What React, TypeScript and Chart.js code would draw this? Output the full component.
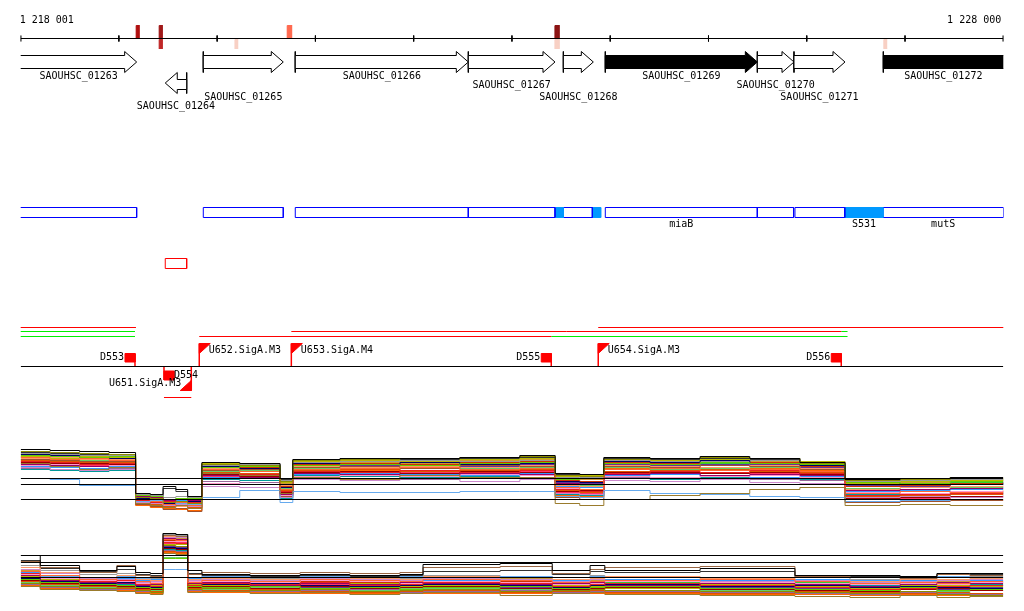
import React, { useEffect, useRef } from 'react';
import { Chart, registerables } from 'chart.js';

Chart.register(...registerables);

// ---------------- data ----------------
const VIEW_START = 1218001;
const VIEW_END = 1228000;
const rulerTicks = [1218001, 1219000, 1220000, 1221000, 1222000, 1223000, 1224000, 1225000, 1226000, 1227000, 1228000];
const rulerLabels = ['1 218 001', '1 228 000'];

const geneNames = ['SAOUHSC_01263', 'SAOUHSC_01264', 'SAOUHSC_01265', 'SAOUHSC_01266', 'SAOUHSC_01267', 'SAOUHSC_01268', 'SAOUHSC_01269', 'SAOUHSC_01270', 'SAOUHSC_01271', 'SAOUHSC_01272'];
const geneStart = [1217800, 1219472, 1219859, 1220795, 1222556, 1223523, 1223950, 1225497, 1225870, 1226779];
const geneEnd = [1219181, 1219690, 1220673, 1222556, 1223438, 1223828, 1225497, 1225870, 1226389, 1228600];
const geneStrand = [1, -1, 1, 1, 1, 1, 1, 1, 1, 1];
const geneFilled = [false, false, false, false, false, false, true, false, false, true];
const geneLabelTier = [0, 3, 2, 0, 1, 2, 0, 1, 2, 0];

const markStart = [1219177, 1219411, 1219411, 1220182, 1220714, 1223438, 1223438, 1226785];
const markEnd = [1219207, 1219442, 1219442, 1220209, 1220758, 1223481, 1223481, 1226813];
const markSide = ['up', 'up', 'down', 'down', 'up', 'up', 'down', 'down'];
const markColor = ['#b01010', '#a01818', '#c02828', '#f8d0c4', '#ff6a50', '#8c1414', '#f8d0c4', '#f8d0c4'];

const boxStart = [1217800, 1219859, 1220795, 1222556, 1223444, 1223523, 1223818, 1223950, 1225497, 1225880, 1226389, 1226776];
const boxEnd = [1219181, 1220673, 1222556, 1223438, 1223523, 1223818, 1223903, 1225497, 1225866, 1226387, 1226776, 1228004];
const boxFilled = [false, false, false, false, true, false, true, false, false, false, true, false];
const boxLabel = ['', '', '', '', '', '', '', 'miaB', '', '', 'S531', 'mutS'];

const redBoxStart = [1219472];
const redBoxEnd = [1219690];

const flagNames = ['D553', 'D554', 'U651.SigA.M3', 'U652.SigA.M3', 'U653.SigA.M4', 'D555', 'U654.SigA.M3', 'D556'];
const flagPos = [1219164, 1219459, 1219737, 1219818, 1220755, 1223400, 1223878, 1226351];
const flagKind = ['D', 'D', 'U', 'U', 'U', 'D', 'U', 'D'];
const flagSide = ['up', 'down', 'down', 'up', 'up', 'up', 'up', 'up'];

const tuStart = [1217800, 1217800, 1217800, 1219818, 1223400, 1220755, 1226351, 1223878, 1219459];
const tuEnd = [1219174, 1219164, 1219164, 1223400, 1226415, 1226351, 1226415, 1228100, 1219737];
const tuLevel = [0, 1, 2, 2, 2, 1, 1, 0, 3];
const tuColor = ['#ff0000', '#00ee00', '#00ee00', '#ff0000', '#00ee00', '#ff0000', '#00ee00', '#ff0000', '#ff0000'];

// expression track 1
const t1X = [1218001, 1218300, 1218600, 1218900, 1219170, 1219320, 1219450, 1219580, 1219700, 1219845, 1220230, 1220640, 1220770, 1221250, 1221860, 1222470, 1223080, 1223440, 1223690, 1223935, 1224405, 1224915, 1225420, 1225930, 1226390, 1226950, 1227460, 1228000];
const t1Refs = [2.1, 1.5, 0];
const t1Series = [
  [5.0, 4.9, 4.8, 4.7, 0.6, 0.5, 1.3, 1.0, 0.3, 3.7, 3.6, 2.1, 4.0, 4.1, 4.1, 4.2, 4.4, 2.6, 2.5, 4.2, 4.1, 4.3, 4.1, 3.7, 2.0, 2.1, 2.2, 2.2],
  [4.8, 4.7, 4.6, 4.5, 0.2, 0.1, -0.3, -0.2, -0.4, 3.5, 3.4, 1.8, 3.9, 4.0, 4.1, 4.2, 4.3, 2.4, 2.3, 4.0, 4.1, 4.2, 4.1, 3.6, 1.9, 2.0, 2.2, 2.2],
  [3.6, 3.3, 3.0, 3.2, -0.4, -0.6, -0.8, -0.6, -0.9, 2.6, 2.4, 0.6, 2.2, 2.0, 2.4, 2.2, 2.2, -0.4, -0.6, 0.0, 0.4, 0.6, 1.0, 1.2, -0.6, -0.5, -0.6, -0.6],
  [2.1, 2.0, 1.4, 1.4, -0.2, -0.1, -0.3, -0.4, -0.5, 0.2, 0.9, -0.3, 0.8, 0.7, 0.7, 0.8, 0.8, 0.3, 0.2, 0.9, 0.6, 0.5, 0.3, 0.2, -0.2, -0.1, 0.0, 0.0],
  [4.2, 4.0, 4.1, 3.9, 0.0, -0.2, -0.5, -0.3, -0.6, 3.0, 2.8, 1.0, 3.0, 3.1, 3.2, 3.0, 3.1, 1.2, 1.0, 3.0, 3.1, 2.9, 3.0, 2.8, 0.6, 0.8, 0.7, 0.9],
  [3.8, 3.7, 3.5, 3.6, -0.1, -0.3, -0.2, -0.4, -0.3, 2.6, 2.5, 0.8, 2.8, 2.7, 2.9, 2.7, 2.9, 1.0, 0.8, 2.6, 2.8, 2.7, 2.9, 2.6, 0.4, 0.5, 0.6, 0.5],
  [3.5, 3.4, 3.3, 3.2, 0.3, 0.2, -0.1, 0.0, -0.1, 2.4, 2.2, 0.5, 2.6, 2.5, 2.4, 2.6, 2.5, 1.6, 1.5, 2.5, 2.6, 2.4, 2.5, 2.4, 0.9, 1.0, 1.1, 1.2],
  [4.4, 4.3, 4.2, 4.3, 0.4, 0.3, 0.0, 0.1, 0.1, 3.2, 3.3, 1.5, 3.4, 3.5, 3.4, 3.6, 3.7, 2.0, 2.1, 3.6, 3.5, 3.7, 3.6, 3.5, 1.7, 1.6, 1.8, 1.9],
  [3.2, 3.0, 2.9, 3.0, -0.3, -0.4, -0.6, -0.5, -0.7, 1.3, 1.2, 0.2, 2.0, 1.9, 2.1, 1.8, 2.0, 0.6, 0.5, 1.9, 1.8, 2.0, 1.7, 1.6, 0.2, 0.3, 0.2, 0.4],
  [4.0, 3.9, 3.8, 3.8, -0.5, -0.7, -1.0, -0.9, -1.2, 2.9, 3.0, 0.3, 3.2, 3.3, 3.1, 3.4, 3.3, 0.2, 0.0, 3.3, 3.2, 3.4, 3.3, 3.0, -0.3, -0.2, -0.1, 0.0],
  [4.5, 4.4, 4.2, 4.1, 0.1, 0.0, -0.4, -0.2, -0.2, 3.3, 3.1, 1.2, 3.6, 3.5, 3.7, 3.5, 3.6, 1.8, 1.7, 3.8, 3.7, 3.9, 3.6, 3.4, 1.5, 1.6, 1.5, 1.7],
  [4.6, 4.5, 4.4, 4.4, 0.5, 0.4, 0.2, 0.3, 0.2, 3.4, 3.5, 1.9, 3.7, 3.8, 3.9, 3.8, 3.9, 2.2, 2.2, 3.9, 3.8, 3.8, 3.9, 3.7, 1.8, 1.9, 2.0, 2.0],
  [4.1, 4.2, 4.0, 4.0, 0.2, 0.0, -0.6, -0.7, -0.5, 3.1, 3.0, 1.4, 3.3, 3.2, 3.3, 3.2, 3.4, 1.4, 1.3, 3.4, 3.3, 3.2, 3.4, 3.1, 1.0, 1.2, 1.3, 1.4],
  [3.9, 3.8, 3.7, 3.7, -0.2, -0.5, -0.7, -0.6, -0.8, 2.7, 2.6, 0.9, 2.9, 3.0, 2.8, 2.9, 3.0, 0.9, 0.7, 2.8, 2.9, 3.0, 2.8, 2.7, 0.3, 0.4, 0.5, 0.6],
  [3.4, 3.5, 3.3, 3.4, 0.0, -0.1, -0.3, -0.2, -0.4, 1.6, 1.5, 0.4, 2.3, 2.4, 2.3, 2.5, 2.4, 1.1, 1.0, 2.3, 2.2, 2.3, 2.4, 2.2, 0.7, 0.6, 0.8, 0.9],
  [3.7, 3.6, 3.6, 3.5, -0.4, -0.3, -0.5, -0.4, -0.6, 2.5, 2.3, 0.7, 2.7, 2.8, 2.6, 2.8, 2.7, 0.8, 0.9, 2.7, 2.7, 2.6, 2.7, 2.5, 0.1, 0.2, 0.3, 0.3],
  [4.3, 4.1, 4.3, 4.2, 0.3, 0.1, -0.2, 0.0, -0.1, 3.6, 3.4, 1.7, 3.8, 3.9, 3.8, 4.0, 4.1, 2.3, 2.4, 4.0, 3.9, 4.0, 3.9, 3.8, 1.6, 1.8, 1.9, 2.1],
  [3.3, 3.2, 3.1, 3.3, 0.1, 0.2, -0.2, -0.1, 0.0, 2.2, 2.1, 0.6, 2.5, 2.6, 2.5, 2.4, 2.6, 1.3, 1.2, 2.4, 2.5, 2.3, 2.2, 2.3, 0.8, 0.9, 1.0, 1.1],
  [3.0, 2.9, 2.8, 2.9, -0.1, 0.0, -0.4, -0.3, -0.3, 2.0, 1.9, 0.1, 2.4, 2.3, 2.2, 2.3, 2.2, 0.5, 0.4, 2.1, 2.0, 2.2, 2.1, 2.0, 0.5, 0.4, 0.6, 0.7],
  [4.7, 4.6, 4.5, 4.5, 0.4, 0.3, 1.1, 0.8, 0.0, 3.6, 3.5, 2.0, 3.9, 4.0, 4.0, 4.1, 4.2, 2.5, 2.4, 4.1, 4.0, 4.1, 4.0, 3.6, 1.9, 2.0, 2.1, 2.1],
  [4.3, 4.2, 4.0, 4.1, 0.2, 0.0, -0.4, -0.5, -0.7, 3.4, 3.2, 1.3, 3.5, 3.6, 3.5, 3.7, 3.8, 1.9, 1.8, 3.7, 3.6, 3.8, 3.7, 3.3, 1.3, 1.4, 1.6, 1.7],
  [3.9, 4.0, 3.9, 3.9, -0.1, -0.2, -0.5, -0.4, -0.5, 2.8, 2.9, 1.1, 3.1, 3.0, 3.2, 3.1, 3.2, 1.5, 1.4, 3.2, 3.0, 3.1, 3.2, 3.0, 1.1, 1.0, 1.2, 1.3],
  [3.6, 3.5, 3.4, 3.5, -0.3, -0.2, -0.4, -0.6, -0.4, 2.3, 2.4, 0.6, 2.7, 2.6, 2.7, 2.6, 2.8, 0.7, 0.6, 2.6, 2.5, 2.6, 2.6, 2.4, 0.2, 0.1, 0.3, 0.4],
  [4.0, 4.1, 4.0, 3.9, 0.1, -0.1, -0.2, -0.3, -0.2, 3.0, 3.1, 1.2, 3.3, 3.4, 3.3, 3.3, 3.5, 1.7, 1.6, 3.5, 3.4, 3.5, 3.5, 3.2, 1.4, 1.3, 1.5, 1.6],
  [4.5, 4.3, 4.4, 4.3, 0.3, 0.2, 0.0, -0.1, 0.0, 3.5, 3.3, 1.6, 3.7, 3.7, 3.6, 3.9, 4.0, 2.1, 2.0, 3.8, 3.8, 3.9, 3.8, 3.6, 1.7, 1.7, 1.9, 2.0],
  [3.1, 3.2, 3.1, 3.1, -0.2, -0.3, -0.7, -0.6, -0.6, 1.8, 1.7, 0.3, 2.2, 2.1, 2.0, 2.2, 2.1, 0.9, 0.8, 2.2, 2.1, 2.1, 2.0, 1.9, 0.6, 0.5, 0.7, 0.8],
  [4.2, 4.3, 4.1, 4.2, 0.4, 0.2, -0.1, 0.1, -0.2, 3.3, 3.4, 1.4, 3.6, 3.5, 3.6, 3.5, 3.6, 2.1, 2.0, 3.6, 3.7, 3.6, 3.7, 3.4, 1.6, 1.5, 1.7, 1.8],
  [3.8, 3.9, 3.8, 3.7, -0.6, -0.8, -0.9, -1.0, -1.1, 2.7, 2.8, 0.4, 3.0, 2.9, 3.1, 3.0, 2.9, 0.4, 0.3, 3.1, 3.0, 2.9, 3.1, 2.9, 0.0, 0.1, 0.2, 0.2],
];
const t1Colors = ['#000000', '#8c8c00', '#9a7b2c', '#66aaee', '#ff6633', '#e82020', '#990066', '#66cc00', '#cc88cc', '#a0522d', '#000066', '#999999', '#ff9966', '#dd5500', '#ff99cc', '#990000', '#b8b800', '#3399ff', '#009999', '#333333', '#cc3300', '#66cc66', '#ff3366', '#663399', '#cc9933', '#996699', '#33cc33', '#ff6600'];

// expression track 2
const t2X = [1218001, 1218200, 1218600, 1218980, 1219170, 1219320, 1219450, 1219580, 1219700, 1219845, 1220335, 1220845, 1221350, 1221860, 1222095, 1222880, 1223410, 1223795, 1223945, 1224915, 1225880, 1226440, 1226950, 1227325, 1227660, 1228000];
const t2Refs = [2.2, 1.5, 0];
const t2Series = [
  [2.2, 1.2, 0.7, 1.1, 0.5, 0.4, 4.4, 4.3, 0.7, 0.3, 0.2, 0.3, 0.2, 0.3, 1.3, 1.4, 0.7, 1.2, 0.7, 0.9, 0.2, 0.2, 0.1, 0.4, 0.4, 0.4],
  [1.6, 1.0, 0.5, 1.2, 0.2, 0.1, 4.2, 4.1, 0.3, 0.5, 0.4, 0.5, 0.4, 0.5, 1.0, 1.1, 0.4, 0.8, 1.0, 1.1, 0.1, 0.0, -0.1, 0.3, 0.2, 0.2],
  [0.6, 0.2, -0.2, 0.0, -0.4, -0.6, 3.8, 3.7, -0.5, -0.3, -0.4, -0.2, -0.3, -0.4, -0.2, -0.3, -0.5, -0.4, -0.3, -0.2, -0.4, -0.6, -0.5, -0.6, -0.4, -0.4],
  [0.4, 0.0, -0.4, -0.3, -0.7, -0.9, 3.5, 3.4, -0.8, -0.6, -0.7, -0.5, -0.8, -0.7, -0.5, -0.6, -0.9, -0.7, -0.6, -0.8, -1.0, -1.2, -1.1, -0.9, -0.8, -0.8],
  [0.0, 0.1, 0.0, 0.1, -0.1, 0.0, 0.8, 0.8, 0.0, 0.1, 0.0, 0.1, 0.0, 0.1, 0.0, 0.1, 0.0, 0.1, 0.0, 0.0, 0.1, 0.0, 0.0, 0.1, 0.0, 0.0],
  [-0.6, -0.9, -1.1, -1.0, -1.3, -1.5, 3.2, 3.1, -1.2, -1.1, -1.3, -1.2, -1.4, -1.3, -1.2, -1.4, -1.3, -1.2, -1.3, -1.4, -1.5, -1.6, -1.4, -1.7, -1.8, -1.8],
  [0.2, -0.3, -0.5, -0.6, -0.8, -0.7, 3.9, 3.8, -0.6, -0.5, -0.8, -0.6, -0.7, -0.5, -0.6, -0.7, -0.6, -0.5, -0.8, -0.6, -0.7, -0.9, -0.7, -0.5, -0.6, -0.6],
  [-0.2, -0.5, -0.7, -0.8, -1.0, -1.1, 1.9, 1.9, -0.9, -1.0, -0.9, -1.1, -1.0, -1.2, -1.0, -0.9, -1.1, -1.0, -0.9, -1.1, -1.2, -1.3, -1.0, -1.3, -1.2, -1.2],
  [0.8, 0.4, -0.1, -0.2, -0.5, -0.4, 4.0, 4.0, -0.3, -0.2, -0.3, -0.1, -0.2, -0.3, -0.1, -0.2, -0.4, -0.2, -0.3, -0.4, -0.3, -0.5, -0.4, -0.3, -0.2, -0.2],
  [-0.1, -0.4, -0.6, -0.5, -0.9, -1.0, 3.0, 2.9, -0.8, -0.7, -0.6, -0.8, -0.9, -0.8, -0.7, -0.8, -1.0, -0.8, -0.7, -0.9, -0.8, -1.0, -0.9, -1.0, -1.1, -1.1],
  [1.0, 0.5, 0.0, 0.2, -0.2, -0.3, 4.1, 4.0, -0.2, -0.1, -0.2, 0.0, -0.1, -0.2, 0.1, 0.0, -0.2, -0.1, 0.1, -0.1, -0.3, -0.4, -0.2, -0.2, -0.1, -0.1],
  [-0.4, -0.7, -0.9, -1.1, -1.2, -1.4, 2.6, 2.5, -1.1, -1.3, -1.2, -1.4, -1.5, -1.4, -1.3, -1.5, -1.4, -1.3, -1.5, -1.6, -1.4, -1.5, -1.6, -1.5, -1.6, -1.6],
  [1.2, 0.7, 0.3, 0.4, 0.0, -0.1, 4.3, 4.2, 0.0, 0.1, -0.1, 0.1, 0.0, -0.1, 0.2, 0.1, 0.0, 0.2, 0.0, -0.1, 0.0, -0.2, -0.1, 0.0, 0.1, 0.1],
  [0.3, -0.1, -0.3, -0.4, -0.6, -0.5, 3.6, 3.6, -0.4, -0.4, -0.5, -0.3, -0.4, -0.6, -0.4, -0.5, -0.7, -0.6, -0.4, -0.5, -0.6, -0.7, -0.6, -0.7, -0.5, -0.5],
  [-0.3, -0.6, -0.8, -0.9, -1.1, -1.2, 2.9, 2.8, -1.0, -0.9, -1.1, -0.9, -1.1, -1.0, -0.9, -1.1, -1.2, -1.1, -1.0, -1.2, -1.3, -1.4, -1.2, -1.1, -1.3, -1.3],
  [0.1, -0.2, -0.4, -0.3, -0.7, -0.8, 3.3, 3.3, -0.7, -0.8, -0.7, -0.9, -0.6, -0.9, -0.8, -0.7, -0.8, -0.9, -1.1, -0.7, -0.9, -1.1, -0.8, -0.8, -0.9, -0.9],
  [0.5, 0.1, -0.2, -0.1, -0.3, -0.2, 2.2, 2.2, -0.1, -0.2, -0.1, -0.3, -0.2, -0.1, -0.3, -0.2, -0.3, -0.2, -0.2, -0.3, -0.2, -0.3, -0.3, -0.2, -0.3, -0.3],
  [-0.9, -1.2, -1.3, -1.4, -1.6, -1.7, 2.4, 2.3, -1.5, -1.4, -1.6, -1.5, -1.7, -1.6, -1.5, -1.8, -1.6, -1.5, -1.7, -1.8, -1.9, -2.0, -1.8, -2.0, -1.9, -1.9],
  [1.7, 0.9, 0.6, 0.8, 0.3, 0.2, 4.4, 4.3, 0.4, 0.2, 0.1, 0.2, 0.1, 0.2, 0.6, 0.7, 0.3, 0.6, 0.5, 0.6, 0.1, 0.1, 0.0, 0.3, 0.3, 0.3],
  [0.0, -0.3, -0.5, -0.7, -0.8, -0.9, 2.8, 2.7, -0.6, -0.5, -0.7, -0.6, -0.7, -0.6, -0.6, -0.7, -0.8, -0.7, -0.6, -0.7, -0.8, -0.8, -0.7, -0.8, -0.7, -0.7],
  [0.5, 0.0, -0.3, -0.2, -0.5, -0.6, 3.7, 3.6, -0.5, -0.4, -0.6, -0.4, -0.5, -0.6, -0.3, -0.4, -0.6, -0.5, -0.4, -0.5, -0.7, -0.8, -0.6, -0.6, -0.5, -0.5],
  [-0.5, -0.8, -1.0, -0.9, -1.1, -1.3, 2.0, 2.0, -1.0, -1.2, -1.0, -1.2, -1.3, -1.1, -1.1, -1.2, -1.3, -1.2, -1.1, -1.3, -1.4, -1.3, -1.2, -1.4, -1.3, -1.3],
  [0.1, -0.4, -0.6, -0.5, -0.9, -0.8, 3.4, 3.5, -0.7, -0.6, -0.7, -0.7, -0.8, -0.7, -0.7, -0.6, -0.7, -0.8, -0.7, -0.8, -0.9, -1.0, -0.8, -0.9, -0.8, -0.8],
  [-0.2, -0.6, -0.8, -0.7, -1.0, -0.9, 3.1, 3.0, -0.9, -0.8, -0.9, -1.0, -0.8, -0.9, -0.9, -1.0, -0.9, -0.9, -0.8, -1.0, -1.1, -1.1, -1.0, -1.2, -1.0, -1.0],
  [0.7, 0.2, -0.1, 0.1, -0.3, -0.4, 3.9, 3.9, -0.2, -0.3, -0.2, -0.3, -0.1, -0.2, -0.2, -0.1, -0.3, -0.3, -0.2, -0.3, -0.4, -0.4, -0.3, -0.4, -0.3, -0.3],
  [-0.7, -1.0, -1.2, -1.2, -1.4, -1.3, 2.7, 2.6, -1.3, -1.2, -1.4, -1.3, -1.2, -1.5, -1.4, -1.3, -1.5, -1.4, -1.4, -1.5, -1.6, -1.7, -1.5, -1.6, -1.7, -1.7],
  [0.3, -0.2, -0.4, -0.4, -0.6, -0.7, 3.0, 3.1, -0.4, -0.3, -0.4, -0.5, -0.4, -0.5, -0.4, -0.4, -0.5, -0.3, -0.5, -0.4, -0.5, -0.6, -0.5, -0.4, -0.4, -0.4],
  [-0.8, -1.1, -1.2, -1.3, -1.5, -1.6, 2.5, 2.4, -1.4, -1.5, -1.5, -1.6, -1.6, -1.5, -1.6, -1.6, -1.5, -1.6, -1.6, -1.7, -1.7, -1.8, -1.7, -1.8, -1.7, -1.7],
];
const t2Colors = ['#000000', '#996644', '#ff6633', '#e82020', '#66aaee', '#8c8c00', '#990066', '#66cc00', '#cc88cc', '#000066', '#ff9966', '#dd5500', '#999999', '#ff99cc', '#990000', '#b8b800', '#3399ff', '#9a7b2c', '#333333', '#009999', '#cc3300', '#66cc66', '#ff3366', '#663399', '#cc9933', '#996699', '#33cc33', '#ff6600'];

// ---------------- layout / style constants ----------------
const W = 1024;
const H = 611;
const PAD_L = 20.7;
const PAD_R = 20.7;
const BP_PER_PX = (VIEW_END - VIEW_START) / (W - PAD_L - PAD_R);
const FONT = "10px 'DejaVu Sans Mono', 'Liberation Mono', monospace";

const RULER_Y = 38.5;
const TICK_TOP = 35.5;
const TICK_BOT = 41.5;
const MARK_UP = [25.5, 37.5];
const MARK_DOWN = [39.5, 48.5];
const FWD = { bodyTop: 55.5, bodyBot: 68.5, headTop: 51.5, headBot: 72.5, mid: 62 };
const REV = { bodyTop: 79.5, bodyBot: 89.5, headTop: 72.5, headBot: 93.5, mid: 83 };
const HEAD_BP = 12 * BP_PER_PX;
const TIER_Y = [76.5, 85.5, 97.5, 106.5];
const BOX_Y = [207.5, 217.5];
const BOX_LABEL_Y = 224.5;
const RED_BOX_Y = [258.5, 268.5];
const TU_Y = [327.5, 331.5, 336.5, 397.5];
const BASE_Y = 366.5;
const FLAG_SQ = 10;
const SQ_BP = FLAG_SQ * BP_PER_PX;
const TRI_BP = 11 * BP_PER_PX;

// y scale for expression tracks: 10 px per unit, zero line at given pixel row
const PX_PER_UNIT = 10;
const scaleFor = (zeroPx: number) => ({
  min: -(H - zeroPx) / PX_PER_UNIT,
  max: zeroPx / PX_PER_UNIT,
});
const Y1 = scaleFor(499.5);
const Y2 = scaleFor(577.5);

type P = { x: number; y: number | null };
const pts = (arr: [number, number | null][]): P[] => arr.map(([x, y]) => ({ x, y }));

function ds(data: P[], color: string, extra: any = {}) {
  return {
    type: 'line',
    data,
    borderColor: color,
    backgroundColor: color,
    borderWidth: 1,
    pointRadius: 0,
    pointHoverRadius: 0,
    tension: 0,
    fill: false,
    spanGaps: false,
    yAxisID: 'yL',
    ...extra,
  };
}

function rect(x0: number, x1: number, y0: number, y1: number): P[] {
  return pts([[x0, y0], [x1, y0], [x1, y1], [x0, y1], [x0, y0]]);
}

function buildDatasets() {
  const out: any[] = [];

  const refs1: P[] = [];
  t1Refs.forEach((v) => refs1.push({ x: VIEW_START, y: v }, { x: VIEW_END, y: v }, { x: VIEW_END, y: null }));
  out.push(ds(refs1, '#000000', { yAxisID: 'y1' }));
  const refs2: P[] = [];
  t2Refs.forEach((v) => refs2.push({ x: VIEW_START, y: v }, { x: VIEW_END, y: v }, { x: VIEW_END, y: null }));
  out.push(ds(refs2, '#000000', { yAxisID: 'y2' }));

  out.push(ds(pts([[VIEW_START, RULER_Y], [VIEW_END, RULER_Y]]), '#000000'));
  const ticks: P[] = [];
  rulerTicks.forEach((t) => ticks.push({ x: t, y: TICK_TOP }, { x: t, y: TICK_BOT }, { x: t, y: null }));
  out.push(ds(ticks, '#000000'));

  markStart.forEach((s, i) => {
    const yy = markSide[i] === 'up' ? MARK_UP : MARK_DOWN;
    out.push(ds(rect(s, markEnd[i], yy[0], yy[1]), markColor[i], { fill: 'shape', backgroundColor: markColor[i], borderWidth: 1.2 }));
  });

  const bars: P[] = [];
  geneNames.forEach((_, i) => {
    const s = geneStart[i];
    const e = geneEnd[i];
    let poly: [number, number][];
    if (geneStrand[i] > 0) {
      const hb = e - HEAD_BP;
      const F = FWD;
      poly = [[s, F.bodyTop], [hb, F.bodyTop], [hb, F.headTop], [e, F.mid], [hb, F.headBot], [hb, F.bodyBot], [s, F.bodyBot], [s, F.bodyTop]];
      bars.push({ x: s, y: F.headTop }, { x: s, y: F.headBot }, { x: s, y: null });
    } else {
      const hb = s + HEAD_BP;
      const R = REV;
      poly = [[e, R.bodyTop], [hb, R.bodyTop], [hb, R.headTop], [s, R.mid], [hb, R.headBot], [hb, R.bodyBot], [e, R.bodyBot], [e, R.bodyTop]];
      bars.push({ x: e, y: R.headTop }, { x: e, y: R.headBot }, { x: e, y: null });
    }
    out.push(ds(pts(poly), '#000000', { fill: 'shape', backgroundColor: geneFilled[i] ? '#000000' : '#ffffff' }));
  });
  out.push(ds(bars, '#000000'));

  boxStart.forEach((s, i) => {
    out.push(ds(rect(s, boxEnd[i], BOX_Y[0], BOX_Y[1]), boxFilled[i] ? '#0099ff' : '#0000ff',
      boxFilled[i] ? { fill: 'shape', backgroundColor: '#0099ff' } : {}));
  });
  redBoxStart.forEach((s, i) => {
    out.push(ds(rect(s, redBoxEnd[i], RED_BOX_Y[0], RED_BOX_Y[1]), '#ff0000'));
  });

  tuStart.forEach((s, i) => {
    out.push(ds(pts([[s, TU_Y[tuLevel[i]]], [tuEnd[i], TU_Y[tuLevel[i]]]]), tuColor[i]));
  });

  out.push(ds(pts([[VIEW_START, BASE_Y], [VIEW_END, BASE_Y]]), '#000000'));

  const stems: P[] = [];
  flagPos.forEach((p, i) => {
    const up = flagSide[i] === 'up';
    const red = { fill: 'shape', backgroundColor: '#ff0000' };
    if (flagKind[i] === 'D') {
      if (up) {
        out.push(ds(rect(p - SQ_BP, p, 353.5, 362), '#ff0000', red));
        stems.push({ x: p, y: 353.5 }, { x: p, y: BASE_Y + 0.5 }, { x: p, y: null });
      } else {
        out.push(ds(rect(p, p + SQ_BP, 371, 380), '#ff0000', red));
        stems.push({ x: p, y: BASE_Y }, { x: p, y: 380 }, { x: p, y: null });
      }
    } else {
      if (up) {
        out.push(ds(pts([[p, 343.5], [p + TRI_BP, 343.5], [p, 353.5], [p, 343.5]]), '#ff0000', red));
        stems.push({ x: p, y: 343.5 }, { x: p, y: BASE_Y + 0.5 }, { x: p, y: null });
      } else {
        out.push(ds(pts([[p, 390.5], [p - TRI_BP, 390.5], [p, 380.5], [p, 390.5]]), '#ff0000', red));
        stems.push({ x: p, y: BASE_Y }, { x: p, y: 390.5 }, { x: p, y: null });
      }
    }
  });
  out.push(ds(stems, '#ff0000', { borderWidth: 1.5 }));

  t1Series.forEach((vals, i) => {
    out.push(ds(t1X.map((x, j) => ({ x, y: vals[j] })), t1Colors[i], { yAxisID: 'y1', stepped: true }));
  });
  t2Series.forEach((vals, i) => {
    out.push(ds(t2X.map((x, j) => ({ x, y: vals[j] })), t2Colors[i], { yAxisID: 'y2', stepped: true }));
  });

  return out;
}

const textPlugin = {
  id: 'genomeText',
  afterDatasetsDraw(chart: any) {
    const ctx: CanvasRenderingContext2D = chart.ctx;
    const x = chart.scales.x;
    const px = (v: number) => x.getPixelForValue(v);
    const clampMid = (s: number, e: number) => (Math.max(s, VIEW_START) + Math.min(e, VIEW_END)) / 2;
    ctx.save();
    ctx.font = FONT;
    ctx.fillStyle = '#000000';
    ctx.textBaseline = 'middle';

    ctx.textAlign = 'left';
    ctx.fillText(rulerLabels[0], px(VIEW_START) - 1, 20.5);
    ctx.textAlign = 'right';
    ctx.fillText(rulerLabels[1], px(VIEW_END) - 2, 20.5);

    ctx.textAlign = 'center';
    geneNames.forEach((n, i) => {
      ctx.fillText(n, px(clampMid(geneStart[i], geneEnd[i])), TIER_Y[geneLabelTier[i]]);
    });
    boxLabel.forEach((n, i) => {
      if (n) ctx.fillText(n, px(clampMid(boxStart[i], boxEnd[i])), BOX_LABEL_Y);
    });

    flagNames.forEach((n, i) => {
      const p = px(flagPos[i]);
      const up = flagSide[i] === 'up';
      if (flagKind[i] === 'D') {
        if (up) { ctx.textAlign = 'right'; ctx.fillText(n, p - FLAG_SQ - 1, 357.5); }
        else { ctx.textAlign = 'left'; ctx.fillText(n, p + FLAG_SQ, 375.5); }
      } else {
        if (up) { ctx.textAlign = 'left'; ctx.fillText(n, p + 9.5, 350.5); }
        else { ctx.textAlign = 'right'; ctx.fillText(n, p - 10, 383.5); }
      }
    });
    ctx.restore();
  },
};

export default function App() {
  const ref = useRef<HTMLCanvasElement | null>(null);
  useEffect(() => {
    document.body.style.margin = '0';
    const canvas = ref.current;
    if (!canvas) return;
    const chart = new Chart(canvas, {
      type: 'line',
      data: { datasets: buildDatasets() as any },
      options: {
        responsive: false,
        animation: false,
        devicePixelRatio: 1,
        events: [],
        layout: { padding: { left: PAD_L, right: PAD_R, top: 0, bottom: 0 } },
        plugins: { legend: { display: false }, tooltip: { enabled: false }, title: { display: false } },
        elements: { point: { radius: 0 }, line: { tension: 0, borderWidth: 1 } },
        scales: {
          x: { type: 'linear', min: VIEW_START, max: VIEW_END, display: false },
          yL: { type: 'linear', min: 0, max: H, reverse: true, display: false },
          y1: { type: 'linear', min: Y1.min, max: Y1.max, display: false },
          y2: { type: 'linear', min: Y2.min, max: Y2.max, display: false },
        },
      } as any,
      plugins: [textPlugin],
    });
    return () => chart.destroy();
  }, []);
  return <canvas ref={ref} width={W} height={H} style={{ display: 'block' }} />;
}
